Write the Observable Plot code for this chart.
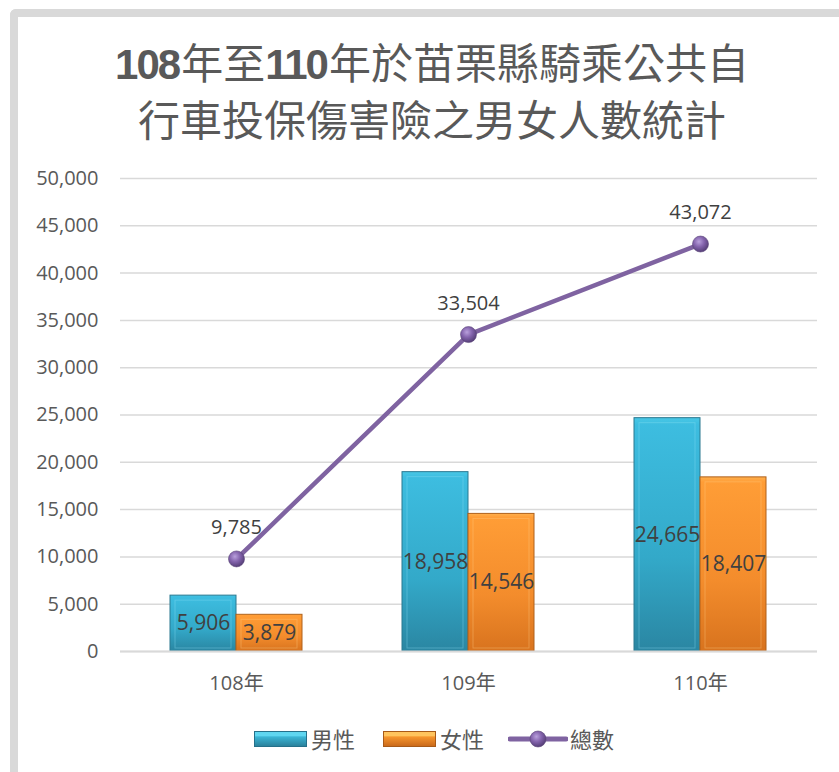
<!DOCTYPE html>
<html>
<head>
<meta charset="utf-8">
<script src="https://cdn.jsdelivr.net/npm/d3@7"></script>
<script src="https://cdn.jsdelivr.net/npm/@observablehq/plot@0.6"></script>
<style>
  html, body { margin: 0; padding: 0; background: #fff; }
  #wrap { position: relative; width: 839px; height: 772px; overflow: hidden; background: #fff; }
  #frame { position: absolute; left: 10px; top: 9px; width: 900px; height: 900px;
           border-top: 8px solid #d9d9d9; border-left: 8px solid #d9d9d9; border-top-left-radius: 6px; box-sizing: border-box; }
  #title { position: absolute; left: 0; top: 34px; width: 864px; text-align: center;
           font-family: "Noto Sans CJK TC", sans-serif; font-size: 42px; line-height: 53px; color: #595959; }
  #title .num { font-family: "Liberation Sans", "Noto Sans CJK TC", sans-serif; font-weight: bold; letter-spacing: -2px; margin-right: 2px; }
  #chart { position: absolute; left: 0; top: 150px; }
  .leg { position: absolute; font-family: "Noto Sans CJK TC", sans-serif; font-size: 22px; color: #595959; line-height: 30px; top: 723px; }
  .sw { position: absolute; top: 731px; }
</style>
</head>
<body>
<div id="wrap">
  <div id="frame"></div>
  <div id="title"><span class="num">108</span>年至<span class="num">110</span>年於苗栗縣騎乘公共自<br>行車投保傷害險之男女人數統計</div>
  <div id="chart"></div>
  <div id="legend"></div>
</div>
<script>
const years = ["108年", "109年", "110年"];
const male = [5906, 18958, 24665];
const female = [3879, 14546, 18407];
const total = [9785, 33504, 43072];
const yTicks = [0, 5000, 10000, 15000, 20000, 25000, 30000, 35000, 40000, 45000, 50000];
const seriesNames = ["男性", "女性", "總數"];

const data = years.map((year, i) => ({year, male: male[i], female: female[i], total: total[i]}));
const fmt = d3.format(",");

const chart = Plot.plot({
  width: 839,
  height: 560,
  marginTop: 28,
  marginBottom: 59,
  marginLeft: 120,
  marginRight: 22,
  style: {fontFamily: "'Open Sans','Noto Sans CJK TC',sans-serif", fontSize: "20px", color: "#595959", background: "transparent", overflow: "visible"},
  x: {domain: years, paddingInner: 0.43, paddingOuter: 0.215, label: null, tickSize: 0, tickPadding: 24},
  y: {domain: [0, 50000], ticks: yTicks, tickFormat: d3.format(","), label: null, tickSize: 0, tickPadding: 22},
  marks: [
    Plot.gridY(yTicks, {stroke: "#d9d9d9", strokeOpacity: 1, strokeWidth: 1.5}),
    Plot.barY(data, {x: "year", y: "male", insetRight: 66, fill: "url(#gMale)", stroke: "#2a7890", strokeWidth: 1}),
    Plot.barY(data, {x: "year", y: "female", insetLeft: 66, fill: "url(#gFemale)", stroke: "#b0611a", strokeWidth: 1}),
    Plot.barY(data, {x: "year", y: "male", insetRight: 71, insetLeft: 5, insetTop: 5, insetBottom: 3, fill: "none", stroke: "#8fe3f5", strokeOpacity: 0.35, strokeWidth: 1}),
    Plot.barY(data, {x: "year", y: "female", insetLeft: 71, insetRight: 5, insetTop: 5, insetBottom: 3, fill: "none", stroke: "#ffd08a", strokeOpacity: 0.35, strokeWidth: 1}),
    Plot.ruleY([0], {stroke: "#d9d9d9", strokeWidth: 2}),
    Plot.text(data, {x: "year", y: d => d.male / 2, dx: -33, text: d => fmt(d.male), fill: "#404040", fontSize: 21}),
    Plot.text(data, {x: "year", y: d => d.female / 2, dx: 33, text: d => fmt(d.female), fill: "#404040", fontSize: 21}),
    Plot.line(data, {x: "year", y: "total", stroke: "#7f63a1", strokeWidth: 4.5}),
    Plot.dot(data, {x: "year", y: "total", r: 8, fill: "url(#gDot)", stroke: "#5a4479", strokeWidth: 0.6}),
    Plot.text(data, {x: "year", y: "total", dy: -31, text: d => fmt(d.total), fill: "#404040", fontSize: 20})
  ]
});

const defs = `
<defs>
  <linearGradient id="gMale" x1="0" y1="0" x2="0" y2="1">
    <stop offset="0" stop-color="#49c8e6"/>
    <stop offset="0.03" stop-color="#3dbde0"/>
    <stop offset="0.6" stop-color="#33a9c9"/>
    <stop offset="1" stop-color="#2a86a2"/>
  </linearGradient>
  <linearGradient id="gFemale" x1="0" y1="0" x2="0" y2="1">
    <stop offset="0" stop-color="#ffb04e"/>
    <stop offset="0.03" stop-color="#ff9d36"/>
    <stop offset="0.6" stop-color="#f38c2c"/>
    <stop offset="1" stop-color="#d8731e"/>
  </linearGradient>
  <radialGradient id="gDot" cx="0.4" cy="0.35" r="0.65">
    <stop offset="0" stop-color="#b9a0dc"/>
    <stop offset="0.5" stop-color="#8464ad"/>
    <stop offset="1" stop-color="#563f78"/>
  </radialGradient>
</defs>`;
chart.insertAdjacentHTML("afterbegin", defs);
document.getElementById("chart").appendChild(chart);

// legend
const legend = document.getElementById("legend");
const items = [
  {name: seriesNames[0], sx: 254, lx: 311, kind: "bar", grad: "lgMale", top: "#5fd6f0", mid: "#3bb6d6", bot: "#2a7f99", edge: "#25708a"},
  {name: seriesNames[1], sx: 383, lx: 440, kind: "bar", grad: "lgFemale", top: "#ffc45e", mid: "#f7962e", bot: "#c8681a", edge: "#a85a18"},
  {name: seriesNames[2], sx: 508, lx: 570, kind: "line"}
];
for (const it of items) {
  const sw = document.createElement("div");
  sw.className = "sw";
  sw.style.left = it.sx + "px";
  if (it.kind === "bar") {
    sw.innerHTML = `<svg width="53" height="16"><defs><linearGradient id="${it.grad}" x1="0" y1="0" x2="0" y2="1">
      <stop offset="0" stop-color="${it.top}"/><stop offset="0.3" stop-color="${it.top}"/><stop offset="0.35" stop-color="${it.mid}"/><stop offset="1" stop-color="${it.bot}"/></linearGradient></defs>
      <rect x="0.5" y="0.5" width="52" height="15" fill="url(#${it.grad})" stroke="${it.edge}"/></svg>`;
  } else {
    sw.style.top = "729px";
    sw.innerHTML = `<svg width="60" height="20"><line x1="2" y1="10" x2="58" y2="10" stroke="#7f63a1" stroke-width="5" stroke-linecap="round"/>
      <circle cx="30" cy="10" r="8" fill="url(#gDot)" stroke="#5a4479" stroke-width="0.6"/></svg>`;
  }
  legend.appendChild(sw);
  const lb = document.createElement("div");
  lb.className = "leg";
  lb.style.left = it.lx + "px";
  lb.textContent = it.name;
  legend.appendChild(lb);
}
</script>
</body>
</html>
